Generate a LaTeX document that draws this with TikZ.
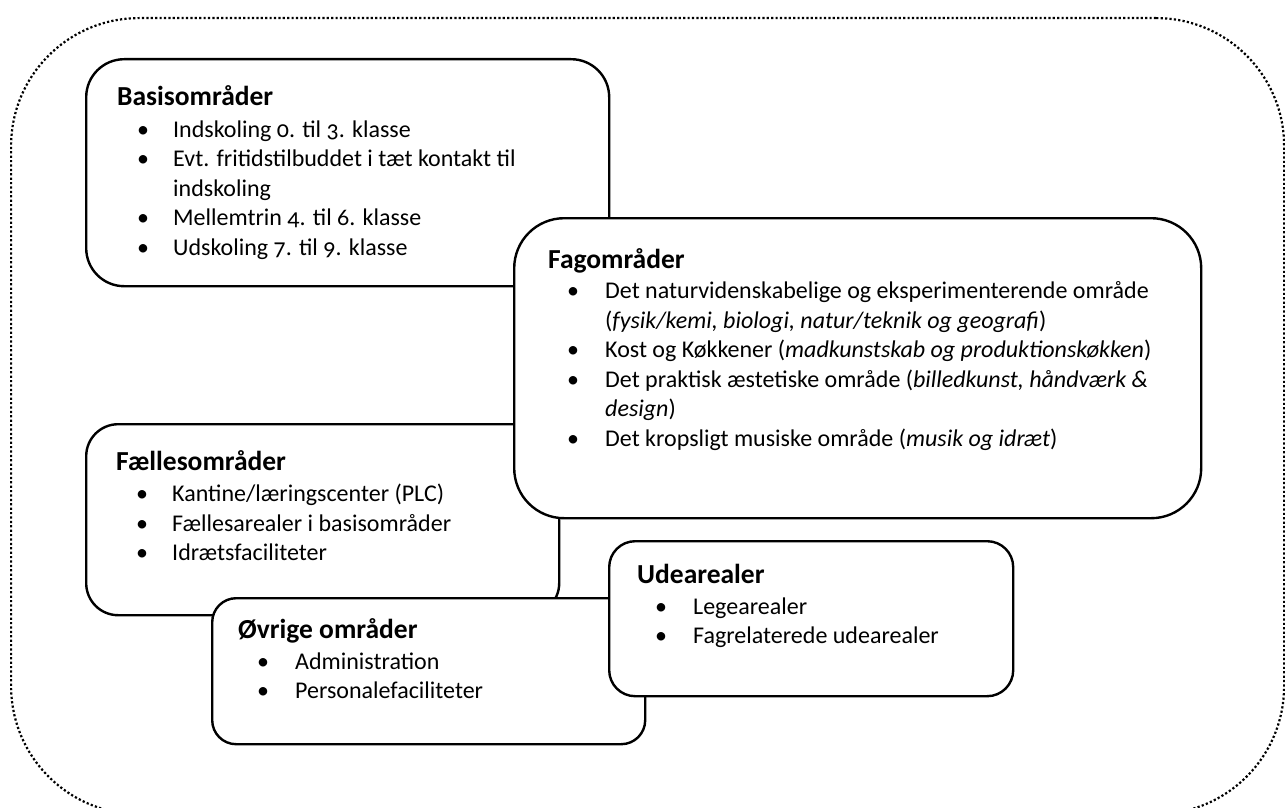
\documentclass[tikz,border=0pt]{standalone}
\usepackage{fontspec}
\setmainfont{Carlito}[Numbers=OldStyle]
\tikzset{
  box/.style={draw=black, line width=2.4pt, fill=white, rectangle, anchor=north west, inner sep=0pt},
  frame/.style={draw=black, line width=2.2pt, dash pattern=on 2.2pt off 2.2pt, rectangle, anchor=north west, inner sep=0pt},
  head/.style={anchor=base west, inner sep=0pt, font=\bfseries\fontsize{27.5}{31}\selectfont},
  item/.style={anchor=base west, inner sep=0pt, font=\fontsize{24}{29}\selectfont},
  bul/.style={anchor=base, inner sep=0pt, font=\fontsize{24}{29}\selectfont},
}
\begin{document}
\begin{tikzpicture}[x=1pt,y=-1pt]
\useasboundingbox (0,0) rectangle (1285,808);
\clip (0,0) rectangle (1285,808);
\node[frame, minimum width=1273pt, minimum height=796pt, rounded corners=128pt] (outer) at (10,17) {};
% Basis
\node[box, minimum width=523pt, minimum height=227pt, rounded corners=38pt] (basis) at (85,58) {};
\node[head] (basisH) at (117,106) {Basisområder};
\node[bul] (bb1) at (143,137) {\textbullet};
\node[item] (bt1) at (173,137) {Indskoling 0. til 3. klasse};
\node[bul] (bb2) at (143,166) {\textbullet};
\node[item] (bt2) at (173,166) {Evt. fritidstilbuddet i tæt kontakt til};
\node[item] (bt2b) at (173,196) {indskoling};
\node[bul] (bb3) at (143,225) {\textbullet};
\node[item] (bt3) at (173,225) {Mellemtrin 4. til 6. klasse};
\node[bul] (bb4) at (143,255) {\textbullet};
\node[item] (bt4) at (173,255) {Udskoling 7. til 9. klasse};
% Faelles
\node[box, minimum width=473pt, minimum height=191pt, rounded corners=32pt] (faelles) at (85,423) {};
\node[head] (faellesH) at (116,470) {Fællesområder};
\node[bul] (fb1) at (142,501) {\textbullet};
\node[item] (ft1) at (172,501) {Kantine/læringscenter (PLC)};
\node[bul] (fb2) at (142,531) {\textbullet};
\node[item] (ft2) at (172,531) {Fællesarealer i basisområder};
\node[bul] (fb3) at (142,560) {\textbullet};
\node[item] (ft3) at (172,560) {Idrætsfaciliteter};
% Fag
\node[box, minimum width=687pt, minimum height=300pt, rounded corners=50pt] (fag) at (513,217) {};
\node[head] (fagH) at (548,268) {Fagområder};
\node[bul] (gb1) at (573,298) {\textbullet};
\node[item] (gt1) at (605,298) {Det naturvidenskabelige og eksperimenterende område};
\node[item] (gt1b) at (605,328) {(\textit{fysik/kemi, biologi, natur/teknik og geografi})};
\node[bul] (gb2) at (573,357) {\textbullet};
\node[item] (gt2) at (605,357) {Kost og Køkkener (\textit{madkunstskab og produktionskøkken})};
\node[bul] (gb3) at (573,387) {\textbullet};
\node[item] (gt3) at (605,387) {Det praktisk æstetiske område (\textit{billedkunst, håndværk \&}};
\node[item] (gt3b) at (605,416) {\textit{design})};
\node[bul] (gb4) at (573,446) {\textbullet};
\node[item] (gt4) at (605,446) {Det kropsligt musiske område (\textit{musik og idræt})};
% Ovrige
\node[box, minimum width=433pt, minimum height=146pt, rounded corners=24pt] (ovrige) at (211,597) {};
\node[head] (ovrigeH) at (238,638) {Øvrige områder};
\node[bul] (ob1) at (263,669) {\textbullet};
\node[item] (ot1) at (295,669) {Administration};
\node[bul] (ob2) at (263,698) {\textbullet};
\node[item] (ot2) at (295,698) {Personalefaciliteter};
% Ude
\node[box, minimum width=404pt, minimum height=155pt, rounded corners=26pt] (ude) at (608,540) {};
\node[head] (udeH) at (637,583) {Udearealer};
\node[bul] (ub1) at (661,614) {\textbullet};
\node[item] (ut1) at (693,614) {Legearealer};
\node[bul] (ub2) at (661,643) {\textbullet};
\node[item] (ut2) at (693,643) {Fagrelaterede udearealer};
\end{tikzpicture}
\end{document}
